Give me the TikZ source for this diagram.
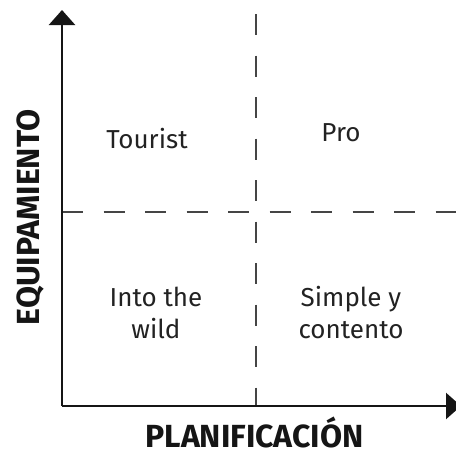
\documentclass[tikz,border=0pt]{standalone}
\usepackage{fontspec}
\setmainfont{Fira Sans}
\usetikzlibrary{arrows.meta}
\definecolor{axisc}{HTML}{151515}
\definecolor{dashc}{HTML}{454545}
\definecolor{textc}{HTML}{222222}

\begin{document}
\begin{tikzpicture}[x=1pt,y=-1pt,
  quad/.style={align=center,text=textc,font=\fontsize{26}{32}\selectfont},
  axtitle/.style={text=axisc,anchor=base,inner sep=0pt,font=\fontsize{32}{36}\selectfont\bfseries},
  axline/.style={-{Triangle[width=26pt,length=15pt]},draw=axisc,line width=2.5pt},
  gridline/.style={draw=dashc,line width=1.8pt,dash pattern=on 21pt off 20.5pt}]
\useasboundingbox (0,0) rectangle (456,450);
\coordinate (o) at (62,406);
\coordinate (ytop) at (62,10);
\coordinate (xend) at (461,406);
\coordinate (vtop) at (256,14);
\coordinate (vbot) at (256,406);
\coordinate (hleft) at (62,212);
\coordinate (hright) at (456,212);

\node[quad] (0) at (147,139) {Tourist};
\node[quad] (1) at (341,133) {Pro};
\node[quad] (2) at (156,313) {Into the\\wild};
\node[quad] (3) at (351,313) {Simple y\\contento};
\node[axtitle] (4) at (254.5,447) {PLANIFICACIÓN};
\node[axtitle,rotate=90] (5) at (39,217.5) {EQUIPAMIENTO};

\path [gridline] (vtop) -- (vbot);
\path [gridline] (hleft) -- (hright);
\path [axline] (o) -- (ytop);
\path [axline] (o) -- (xend);
\end{tikzpicture}
\end{document}
